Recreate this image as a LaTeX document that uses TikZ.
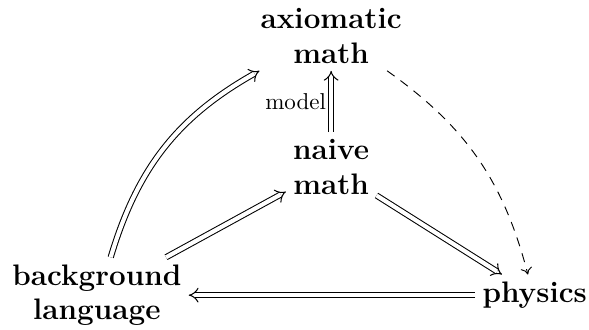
\documentclass[tikz,border=0pt]{standalone}
\usetikzlibrary{arrows.meta}
\tikzset{
  %% 对象节点
  obj/.style={font=\fontsize{12.9}{15}\selectfont\bfseries,align=center,inner sep=3pt},
  %% 箭头
  dbarr/.style={double,double distance=1.8pt,-{Implies[scale=1.25]},line width=0.45pt},
  dsarr/.style={-{To[length=3pt,width=5pt]},dash pattern=on 4pt off 3.2pt,thin},
  lbl/.style={font=\normalsize,inner sep=2pt},
}
\begin{document}
\begin{tikzpicture}
    \useasboundingbox (0,0) rectangle (9,5.04);

    %% 四个对象
    \node[obj] (axmath) at (5.06,4.49) {axiomatic\\math};
    \node[obj] (naive)  at (5.06,2.49) {naive\\math};
    \node[obj] (bglang) at (1.48,0.53) {background\\language};
    \node[obj] (phys)   at (8.17,0.53) {physics};

    %% 双线箭头
    \draw[dbarr] (naive) -- node[lbl,left]{model} (axmath);
    \draw[dbarr] (bglang) to[bend left=22] (axmath);
    \draw[dbarr] (bglang) -- (naive);
    \draw[dbarr] (naive) -- (phys);
    \draw[dbarr] (phys) -- (bglang);

    %% 虚线箭头
    \draw[dsarr] (axmath) to[bend left=20] (phys);
\end{tikzpicture}
\end{document}
